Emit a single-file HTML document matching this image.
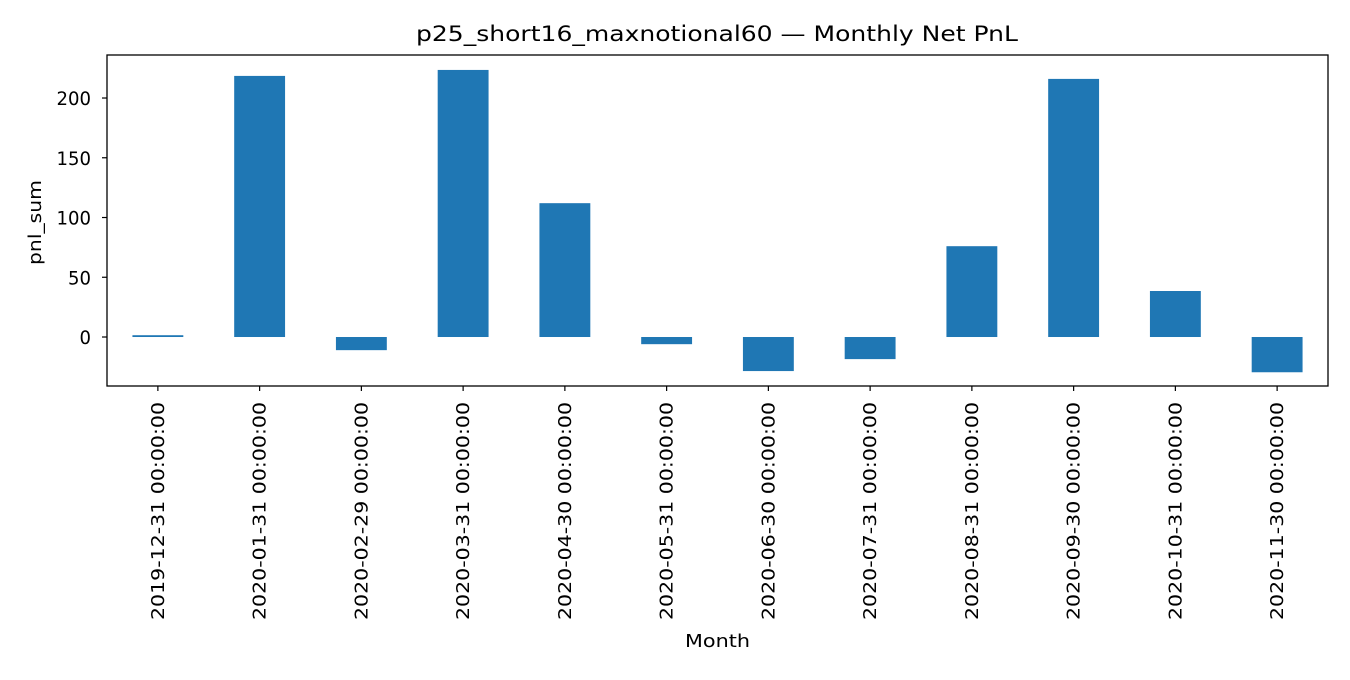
<!DOCTYPE html>
<html><head><meta charset="utf-8"><style>
body{margin:0;background:#fff;}
svg text{font-family:"DejaVu Sans","Liberation Sans",sans-serif;fill:#000;}
</style></head><body>
<svg id="chart" width="1350" height="675">
<text x="416" y="41" font-size="21" textLength="602" lengthAdjust="spacingAndGlyphs">p25_short16_maxnotional60 — Monthly Net PnL</text>
<text x="685" y="647" font-size="18" textLength="65" lengthAdjust="spacingAndGlyphs">Month</text>
<text transform="translate(41,265) rotate(-90)" font-size="18" textLength="85" lengthAdjust="spacingAndGlyphs">pnl_sum</text>
<g id="bars"></g><g id="axes"></g>
</svg>
<script>
const categories=["2019-12-31 00:00:00","2020-01-31 00:00:00","2020-02-29 00:00:00","2020-03-31 00:00:00","2020-04-30 00:00:00","2020-05-31 00:00:00","2020-06-30 00:00:00","2020-07-31 00:00:00","2020-08-31 00:00:00","2020-09-30 00:00:00","2020-10-31 00:00:00","2020-11-30 00:00:00"];
const pnlValues=[1.5,218.5,-11,223.5,112,-6,-28.5,-18.5,76,216,38.5,-29.5];
const yTicks=[0,50,100,150,200];
const L=107,R=1328,T=55,B=386,yMin=-41,yMax=236;
const NS="http://www.w3.org/2000/svg";
const xS=i=>L+(i+0.5)*(R-L)/categories.length;
const yS=v=>B-(v-yMin)/(yMax-yMin)*(B-T);
function mk(tag,attrs,parent){const e=document.createElementNS(NS,tag);for(const k in attrs)e.setAttribute(k,attrs[k]);parent.appendChild(e);return e;}
const bars=document.getElementById('bars'),axes=document.getElementById('axes');
const bw=(R-L)/categories.length*0.5;
pnlValues.forEach((v,i)=>{
 const r=mk('rect',{x:xS(i)-bw/2,y:Math.min(yS(v),yS(0)),width:bw,height:Math.abs(yS(v)-yS(0)),fill:'#1f77b4'},bars);
 
 
});
const frame=mk('rect',{x:L,y:T,width:R-L,height:B-T,fill:'none',stroke:'#000','stroke-width':1.3},axes);


yTicks.forEach(t=>{
 const y=yS(t);
 mk('line',{x1:L-5,x2:L,y1:y,y2:y,stroke:'#000','stroke-width':1.2},axes);
 const s=String(t);
 const tx=mk('text',{x:L-16-11.5*s.length,y:y+7,'font-size':18.5,textLength:11.5*s.length,lengthAdjust:'spacingAndGlyphs'},axes);
 tx.textContent=s;
 
 
});
categories.forEach((c,i)=>{
 const x=xS(i);
 mk('line',{x1:x,x2:x,y1:B,y2:B+5,stroke:'#000','stroke-width':1.2},axes);
 const tx=mk('text',{transform:`translate(${x+6},${B+234}) rotate(-90)`,'font-size':18,textLength:218,lengthAdjust:'spacingAndGlyphs'},axes);
 tx.textContent=c;
 
 
});
</script>
</body></html>
